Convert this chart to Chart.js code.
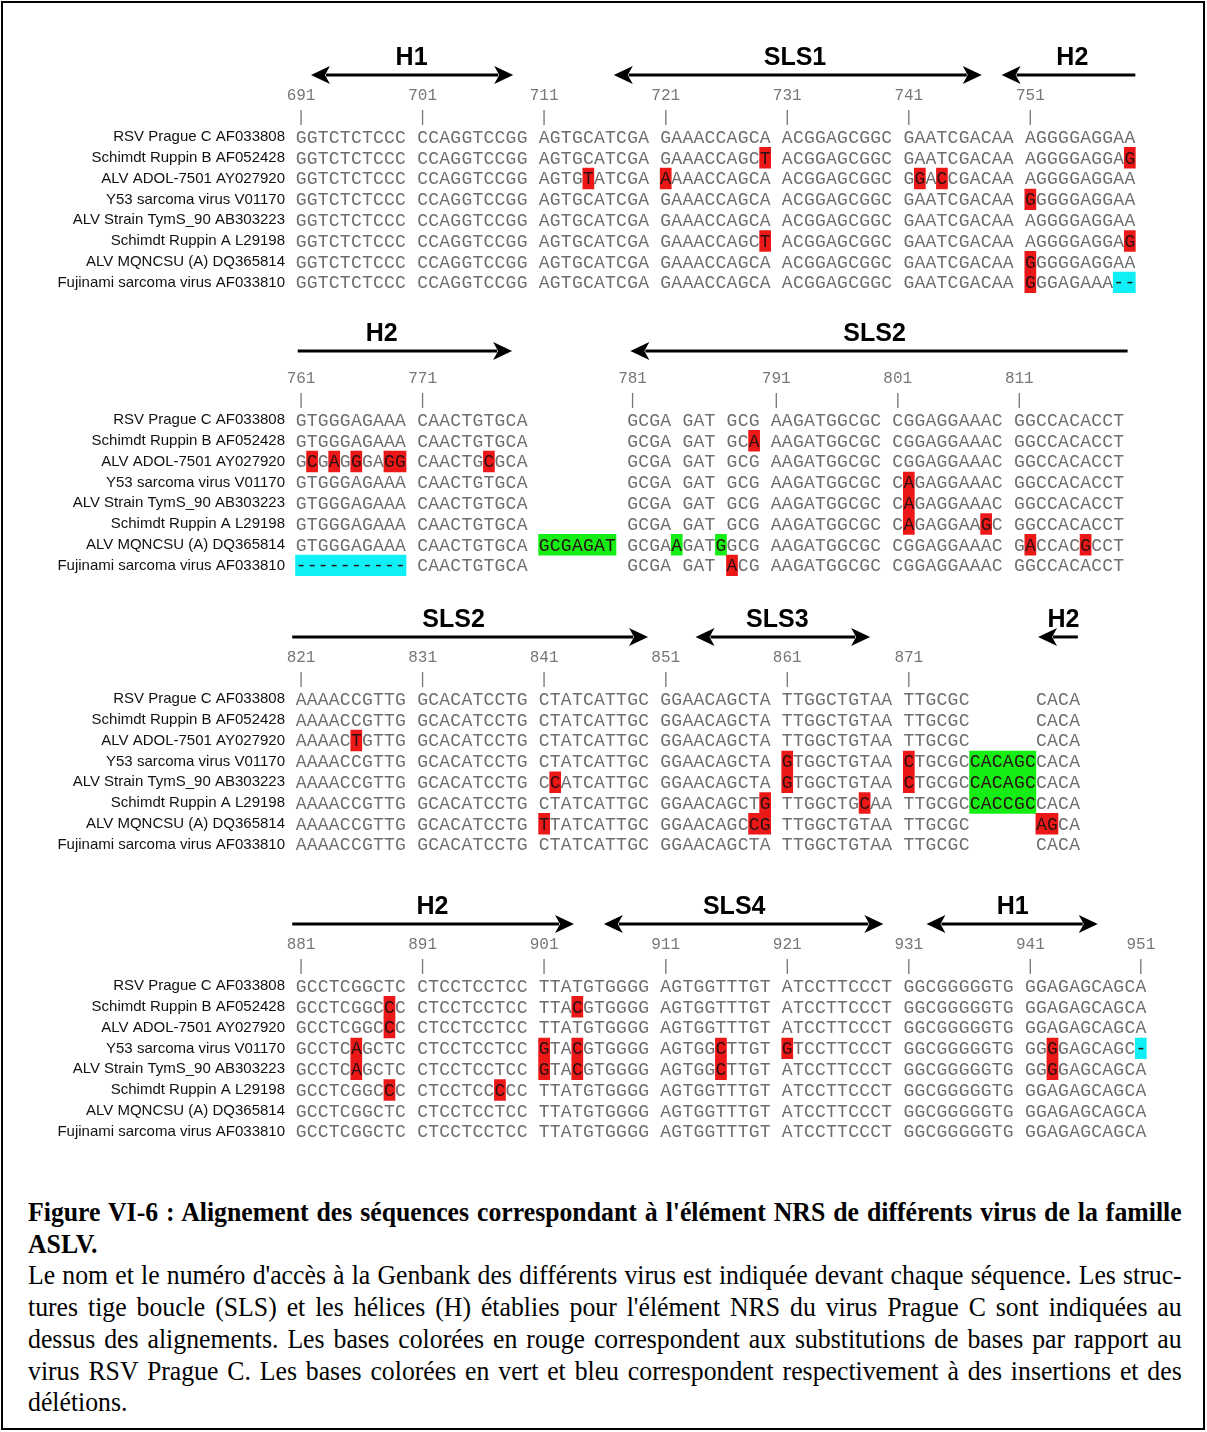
<!DOCTYPE html>
<html>
<head>
<meta charset="utf-8">
<script src="https://cdn.jsdelivr.net/npm/chart.js@4.4.1/dist/chart.umd.min.js"></script>
<style>
html, body { margin: 0; padding: 0; background: #fff; }
#page { position: relative; width: 1207px; height: 1432px; overflow: hidden; }
.frame { position: absolute; left: 1px; top: 1px; width: 1204px; height: 1429px; border: 2px solid #000; box-sizing: border-box; }
canvas { position: absolute; left: 0; }
#caption { position: absolute; left: 28px; top: 1196px; width: 1254px; transform: scaleX(0.92); transform-origin: 0 0;
  font-family: "Liberation Serif", "Times New Roman", serif; font-size: 28px; line-height: 31.7px; color: #000; }
#caption div { text-align: justify; text-align-last: justify; }
#caption div.last { text-align-last: left; }
#caption .title { font-weight: bold; }
</style>
</head>
<body>
<div id="page">
  <div class="frame"></div>
  <canvas id="block1" width="1207" height="280" style="top:27px"></canvas>
  <canvas id="block2" width="1207" height="280" style="top:310px"></canvas>
  <canvas id="block3" width="1207" height="280" style="top:589px"></canvas>
  <canvas id="block4" width="1207" height="280" style="top:876px"></canvas>
  <div id="caption">
    <div class="title">Figure VI-6 : Alignement des séquences correspondant à l'élément NRS de différents virus de la famille</div>
    <div class="title last">ASLV.</div>
    <div>Le nom et le numéro d'accès à la Genbank des différents virus est indiquée devant chaque séquence. Les struc-</div>
    <div>tures tige boucle (SLS) et les hélices (H) établies pour l'élément NRS du virus Prague C sont indiquées au</div>
    <div>dessus des alignements. Les bases colorées en rouge correspondent aux substitutions de bases par rapport au</div>
    <div>virus RSV Prague C. Les bases colorées en vert et bleu correspondent respectivement à des insertions et des</div>
    <div class="last">délétions.</div>
  </div>
</div>
<script>
const names = [
  'RSV Prague C AF033808',
  'Schimdt Ruppin B AF052428',
  'ALV ADOL-7501 AY027920',
  'Y53 sarcoma virus V01170',
  'ALV Strain TymS_90 AB303223',
  'Schimdt Ruppin A L29198',
  'ALV MQNCSU (A) DQ365814',
  'Fujinami sarcoma virus AF033810'
];

// block 1 : 691-761
const seq1 = [
  'GGTCTCTCCC CCAGGTCCGG AGTGCATCGA GAAACCAGCA ACGGAGCGGC GAATCGACAA AGGGGAGGAA',
  'GGTCTCTCCC CCAGGTCCGG AGTGCATCGA GAAACCAGCT ACGGAGCGGC GAATCGACAA AGGGGAGGAG',
  'GGTCTCTCCC CCAGGTCCGG AGTGTATCGA AAAACCAGCA ACGGAGCGGC GGACCGACAA AGGGGAGGAA',
  'GGTCTCTCCC CCAGGTCCGG AGTGCATCGA GAAACCAGCA ACGGAGCGGC GAATCGACAA GGGGGAGGAA',
  'GGTCTCTCCC CCAGGTCCGG AGTGCATCGA GAAACCAGCA ACGGAGCGGC GAATCGACAA AGGGGAGGAA',
  'GGTCTCTCCC CCAGGTCCGG AGTGCATCGA GAAACCAGCT ACGGAGCGGC GAATCGACAA AGGGGAGGAG',
  'GGTCTCTCCC CCAGGTCCGG AGTGCATCGA GAAACCAGCA ACGGAGCGGC GAATCGACAA GGGGGAGGAA',
  'GGTCTCTCCC CCAGGTCCGG AGTGCATCGA GAAACCAGCA ACGGAGCGGC GAATCGACAA GGGAGAAA--'
];
const tickCols1 = [0, 11, 22, 33, 44, 55, 66];
const tickLabels1 = ['691', '701', '711', '721', '731', '741', '751'];
// [row, firstCol, lastCol]
const subst1 = [[1, 42], [1, 75], [2, 26], [2, 33], [2, 56], [2, 58], [3, 66], [5, 42], [5, 75], [6, 66], [7, 66]];
const insert1 = [];
const delet1 = [[7, 74, 75]];
// [name, fromCol, toCol, heads, labelCol]
const struct1 = [['H1', 0.9, 19.2, 'both', 10], ['SLS1', 28.3, 61.6, 'both', 44.7], ['H2', 63.4, 75.5, 'left', 69.8]];

// block 2 : 761-820
const seq2 = [
  'GTGGGAGAAA CAACTGTGCA         GCGA GAT GCG AAGATGGCGC CGGAGGAAAC GGCCACACCT',
  'GTGGGAGAAA CAACTGTGCA         GCGA GAT GCA AAGATGGCGC CGGAGGAAAC GGCCACACCT',
  'GCGAGGGAGG CAACTGCGCA         GCGA GAT GCG AAGATGGCGC CGGAGGAAAC GGCCACACCT',
  'GTGGGAGAAA CAACTGTGCA         GCGA GAT GCG AAGATGGCGC CAGAGGAAAC GGCCACACCT',
  'GTGGGAGAAA CAACTGTGCA         GCGA GAT GCG AAGATGGCGC CAGAGGAAAC GGCCACACCT',
  'GTGGGAGAAA CAACTGTGCA         GCGA GAT GCG AAGATGGCGC CAGAGGAAGC GGCCACACCT',
  'GTGGGAGAAA CAACTGTGCA GCGAGAT GCGAAGATGGCG AAGATGGCGC CGGAGGAAAC GACCACGCCT',
  '---------- CAACTGTGCA         GCGA GAT ACG AAGATGGCGC CGGAGGAAAC GGCCACACCT'
];
const tickCols2 = [0, 11, 30, 43, 54, 65];
const tickLabels2 = ['761', '771', '781', '791', '801', '811'];
const subst2 = [[1, 41], [2, 1], [2, 3], [2, 5], [2, 8], [2, 9], [2, 17], [3, 55], [4, 55], [5, 55], [5, 62], [6, 66], [6, 71], [7, 39]];
const insert2 = [[6, 22, 28], [6, 34, 34], [6, 38, 38]];
const delet2 = [[7, 0, 9]];
const struct2 = [['H2', -0.3, 19.1, 'right', 7.3], ['SLS2', 29.8, 74.8, 'left', 51.9]];

// block 3 : 821-880
const seq3 = [
  'AAAACCGTTG GCACATCCTG CTATCATTGC GGAACAGCTA TTGGCTGTAA TTGCGC      CACA',
  'AAAACCGTTG GCACATCCTG CTATCATTGC GGAACAGCTA TTGGCTGTAA TTGCGC      CACA',
  'AAAACTGTTG GCACATCCTG CTATCATTGC GGAACAGCTA TTGGCTGTAA TTGCGC      CACA',
  'AAAACCGTTG GCACATCCTG CTATCATTGC GGAACAGCTA GTGGCTGTAA CTGCGCCACAGCCACA',
  'AAAACCGTTG GCACATCCTG CCATCATTGC GGAACAGCTA GTGGCTGTAA CTGCGCCACAGCCACA',
  'AAAACCGTTG GCACATCCTG CTATCATTGC GGAACAGCTG TTGGCTGCAA TTGCGCCACCGCCACA',
  'AAAACCGTTG GCACATCCTG TTATCATTGC GGAACAGCCG TTGGCTGTAA TTGCGC      AGCA',
  'AAAACCGTTG GCACATCCTG CTATCATTGC GGAACAGCTA TTGGCTGTAA TTGCGC      CACA'
];
const tickCols3 = [0, 11, 22, 33, 44, 55];
const tickLabels3 = ['821', '831', '841', '851', '861', '871'];
const subst3 = [[2, 5], [3, 44], [3, 55], [4, 23], [4, 44], [4, 55], [5, 42], [5, 51], [6, 22], [6, 41], [6, 42], [6, 67], [6, 68]];
const insert3 = [[3, 61, 66], [4, 61, 66], [5, 61, 66]];
const delet3 = [];
const struct3 = [['SLS2', -0.8, 31.4, 'right', 13.8], ['SLS3', 35.7, 51.5, 'both', 43.1], ['H2', 66.7, 70.3, 'left', 69]];

// block 4 : 881-951
const seq4 = [
  'GCCTCGGCTC CTCCTCCTCC TTATGTGGGG AGTGGTTTGT ATCCTTCCCT GGCGGGGGTG GGAGAGCAGCA',
  'GCCTCGGCCC CTCCTCCTCC TTACGTGGGG AGTGGTTTGT ATCCTTCCCT GGCGGGGGTG GGAGAGCAGCA',
  'GCCTCGGCCC CTCCTCCTCC TTATGTGGGG AGTGGTTTGT ATCCTTCCCT GGCGGGGGTG GGAGAGCAGCA',
  'GCCTCAGCTC CTCCTCCTCC GTACGTGGGG AGTGGCTTGT GTCCTTCCCT GGCGGGGGTG GGGGAGCAGC-',
  'GCCTCAGCTC CTCCTCCTCC GTACGTGGGG AGTGGCTTGT ATCCTTCCCT GGCGGGGGTG GGGGAGCAGCA',
  'GCCTCGGCCC CTCCTCCCCC TTATGTGGGG AGTGGTTTGT ATCCTTCCCT GGCGGGGGTG GGAGAGCAGCA',
  'GCCTCGGCTC CTCCTCCTCC TTATGTGGGG AGTGGTTTGT ATCCTTCCCT GGCGGGGGTG GGAGAGCAGCA',
  'GCCTCGGCTC CTCCTCCTCC TTATGTGGGG AGTGGTTTGT ATCCTTCCCT GGCGGGGGTG GGAGAGCAGCA'
];
const tickCols4 = [0, 11, 22, 33, 44, 55, 66, 76];
const tickLabels4 = ['881', '891', '901', '911', '921', '931', '941', '951'];
const subst4 = [[1, 8], [1, 25], [2, 8], [3, 5], [3, 22], [3, 25], [3, 38], [3, 44], [3, 68], [4, 5], [4, 22], [4, 25], [4, 38], [4, 68], [5, 8], [5, 18]];
const insert4 = [];
const delet4 = [[3, 76, 76]];
const struct4 = [['H2', -0.8, 24.7, 'right', 11.9], ['SLS4', 27.4, 52.7, 'both', 39.2], ['H1', 56.6, 72.1, 'both', 64.4]];

function toBars(cells) {
  return cells.map(c => ({ x: [c[1] - 0.5, (c.length > 2 ? c[2] : c[1]) + 0.5], y: names[c[0]] }));
}

function drawHead(ctx, tipX, yy, dir) {
  ctx.beginPath();
  ctx.moveTo(tipX, yy);
  ctx.lineTo(tipX - dir * 19, yy - 9);
  ctx.lineTo(tipX - dir * 14, yy);
  ctx.lineTo(tipX - dir * 19, yy + 9);
  ctx.closePath();
  ctx.fill();
}

function createBlock(id, seqs, tickCols, tickLabels, subst, insert, delet, structs, arrowGap) {
  const ctx = document.getElementById(id).getContext('2d');
  const marked = new Set();
  [subst, insert, delet].forEach(list => list.forEach(c => {
    const end = c.length > 2 ? c[2] : c[1];
    for (let k = c[1]; k <= end; k++) marked.add(c[0] + ':' + k);
  }));

  const textPlugin = {
    id: 'seqText',
    afterDatasetsDraw(chart) {
      const { ctx, scales: { x, y } } = chart;
      ctx.save();
      ctx.font = '18px "Liberation Mono", "Courier New", monospace';
      ctx.textAlign = 'center';
      ctx.textBaseline = 'middle';
      seqs.forEach((s, r) => {
        const py = y.getPixelForValue(r);
        [...s].forEach((ch, c) => {
          if (ch === ' ') return;
          ctx.fillStyle = marked.has(r + ':' + c) ? '#2a1010' : '#6e6e6e';
          ctx.fillText(ch, x.getPixelForValue(c), py + 1);
        });
      });

      // structure arrows above the numbering
      const ay = y.getPixelForValue(0) - arrowGap;
      ctx.fillStyle = '#000';
      ctx.strokeStyle = '#000';
      ctx.lineWidth = 3;
      structs.forEach(st => {
        const [label, from, to, heads, at] = st;
        const x0 = x.getPixelForValue(from), x1 = x.getPixelForValue(to);
        const l0 = (heads === 'both' || heads === 'left') ? x0 + 15 : x0;
        const l1 = (heads === 'both' || heads === 'right') ? x1 - 15 : x1;
        ctx.beginPath();
        ctx.moveTo(l0, ay);
        ctx.lineTo(l1, ay);
        ctx.stroke();
        if (heads === 'both' || heads === 'left') drawHead(ctx, x0, ay, -1);
        if (heads === 'both' || heads === 'right') drawHead(ctx, x1, ay, 1);
        ctx.font = 'bold 25px "Liberation Sans", Arial, sans-serif';
        ctx.fillText(label, x.getPixelForValue(at), ay - 17);
      });
      ctx.restore();
    }
  };

  const common = { grouped: false, barPercentage: 1, categoryPercentage: 1, borderWidth: 0 };

  new Chart(ctx, {
    type: 'bar',
    data: {
      labels: names,
      datasets: [
        Object.assign({ label: 'substitution', data: toBars(subst), backgroundColor: '#ec1818' }, common),
        Object.assign({ label: 'insertion', data: toBars(insert), backgroundColor: '#14ee14' }, common),
        Object.assign({ label: 'deletion', data: toBars(delet), backgroundColor: '#10eef6' }, common)
      ]
    },
    options: {
      indexAxis: 'y',
      responsive: false,
      animation: false,
      layout: { padding: { top: 49.55, right: 44.05, bottom: 13.25, left: 0 } },
      plugins: { legend: { display: false }, tooltip: { enabled: false } },
      scales: {
        x: {
          type: 'linear',
          position: 'top',
          min: -1,
          max: 78,
          grid: { display: false, drawTicks: false },
          border: { display: false },
          afterFit: s => { s.height = 50; },
          afterBuildTicks: s => { s.ticks = tickCols.map(v => ({ value: v })); },
          ticks: {
            autoSkip: false,
            maxRotation: 0,
            padding: -2,
            color: '#777',
            font: { family: '"Liberation Mono", "Courier New", monospace', size: 16, lineHeight: 1.375 },
            callback: (v, i) => [tickLabels[i], '|']
          }
        },
        y: {
          grid: { display: false, drawTicks: false },
          border: { display: false },
          afterFit: s => { s.width = 290; },
          ticks: {
            autoSkip: false,
            padding: 5,
            color: '#111',
            font: { family: '"Liberation Sans", Arial, sans-serif', size: 15 }
          }
        }
      }
    },
    plugins: [textPlugin]
  });
}

createBlock('block1', seq1, tickCols1, tickLabels1, subst1, insert1, delet1, struct1, 62);
createBlock('block2', seq2, tickCols2, tickLabels2, subst2, insert2, delet2, struct2, 69);
createBlock('block3', seq3, tickCols3, tickLabels3, subst3, insert3, delet3, struct3, 62);
createBlock('block4', seq4, tickCols4, tickLabels4, subst4, insert4, delet4, struct4, 62);
</script>
</body>
</html>
